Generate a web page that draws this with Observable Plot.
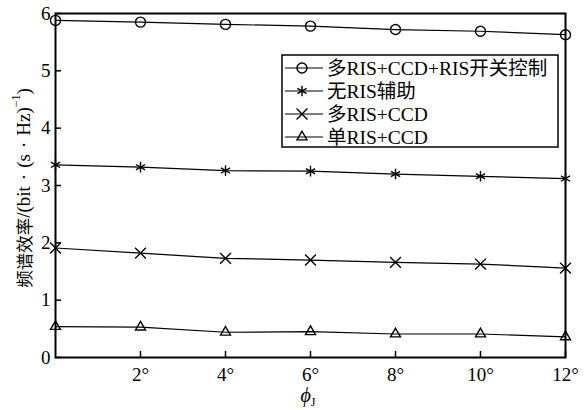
<!DOCTYPE html>
<html><head><meta charset="utf-8">
<script src="https://cdn.jsdelivr.net/npm/d3@7"></script>
<script src="https://cdn.jsdelivr.net/npm/@observablehq/plot@0.6"></script>
<style>body{margin:0;background:#fff} #chart{position:relative;width:587px;height:410px}</style>
</head><body><div id="chart"></div>
<script>
const angles = [0, 2, 4, 6, 8, 10, 12];
const multiRisSwitch = [5.88, 5.85, 5.81, 5.78, 5.72, 5.69, 5.63];
const noRis = [3.36, 3.32, 3.26, 3.25, 3.20, 3.16, 3.12];
const multiRis = [1.91, 1.82, 1.73, 1.70, 1.66, 1.63, 1.56];
const singleRis = [0.54, 0.53, 0.44, 0.45, 0.41, 0.41, 0.36];
const seriesNames = ["多RIS+CCD+RIS开关控制", "无RIS辅助", "多RIS+CCD", "单RIS+CCD"];
const seriesSymbols = ["circle", "asterisk", "times", "triangle"];
const xTicks = [2, 4, 6, 8, 10, 12];
const yTicks = [0, 1, 2, 3, 4, 5, 6];
const yLabelParts = ["频谱效率", "/(bit", "·", "(s", "·", "Hz)", "−1", ")"];
const xLabelMain = "ϕ";
const xLabelSub = "J";

const seriesValues = [multiRisSwitch, noRis, multiRis, singleRis];
const data = [];
seriesNames.forEach((name, i) => angles.forEach((a, j) => data.push({series: name, angle: a, value: seriesValues[i][j]})));

const W = 587, H = 410, mL = 55, mR = 22, mT = 13, mB = 53;
const plotW = W - mL - mR, plotH = H - mT - mB, TICK = 6;
const SERIF = "'Liberation Serif', 'Times New Roman', serif";
const CJK = "'Noto Sans CJK SC', sans-serif";
const MIXED = "'Liberation Serif', 'Times New Roman', 'Noto Sans CJK SC', serif";
const markerR = s => (s === "triangle" ? 3.7 : 5);

const chart = Plot.plot({
  width: W, height: H,
  marginLeft: mL, marginRight: mR, marginTop: mT, marginBottom: mB,
  style: {fontFamily: SERIF, fontSize: "19px", color: "#000", background: "#fff", overflow: "visible"},
  x: {domain: [0, 12]},
  y: {domain: [0, 6]},
  symbol: {domain: seriesNames, range: seriesSymbols},
  marks: [
    Plot.axisX(xTicks, {tickSize: 0, tickPadding: 10, tickFormat: d => d + "°", label: null}),
    Plot.axisY(yTicks, {tickSize: 0, tickPadding: 5, tickFormat: d => String(d), label: null}),
    Plot.tickX(xTicks, {x: d => d, stroke: "black", strokeWidth: 1.5, insetTop: plotH - TICK}),
    Plot.tickY(yTicks, {y: d => d, stroke: "black", strokeWidth: 1.5, insetRight: plotW - TICK}),
    Plot.line(data, {x: "angle", y: "value", z: "series", stroke: "black", strokeWidth: 1.2}),
    ...seriesNames.map((name, i) => Plot.dot(data.filter(d => d.series === name), {
      x: "angle", y: "value", symbol: "series", r: markerR(seriesSymbols[i]),
      stroke: "black", fill: "none", strokeWidth: 1.4
    })),
    Plot.frame({stroke: "black", strokeWidth: 2})
  ]
});
document.getElementById("chart").appendChild(chart);

const svg = d3.select(chart);
const xs = chart.scale("x");
const ys = chart.scale("y");

// y-axis label
const yl = svg.append("text")
  .attr("transform", `translate(23,${(ys.apply(0) + ys.apply(6)) / 2 + 3}) rotate(-90)`)
  .attr("text-anchor", "middle").attr("dominant-baseline", "central").attr("fill", "black");
yLabelParts.forEach((p, i) => {
  const t = yl.append("tspan");
  if (i === 0) { t.attr("font-family", CJK).attr("font-size", 17.5); }
  else { t.attr("font-family", SERIF).attr("font-size", 19); }
  if (p === "·") t.attr("dx", 6);
  if (i > 0 && yLabelParts[i - 1] === "·") t.attr("dx", 6);
  if (p === "−1") t.attr("font-size", 12).attr("dy", -7);
  if (i > 0 && yLabelParts[i - 1] === "−1") t.attr("dy", 7);
  t.text(p);
});

// x-axis label ϕ_J
const xl = svg.append("text")
  .attr("x", xs.apply(6) - 2).attr("y", H - 8)
  .attr("text-anchor", "middle").attr("font-size", 20).attr("fill", "black");
xl.append("tspan").attr("font-style", "italic").text(xLabelMain);
xl.append("tspan").attr("font-size", 12).attr("dy", 4).text(xLabelSub);

// legend
const lgX = W - mR - 283, lgY = mT + 42, lgW = 276, rowH = 23;
const lg = svg.append("g").attr("transform", `translate(${lgX},${lgY})`).attr("text-anchor", "start");
lg.append("rect").attr("width", lgW).attr("height", rowH * 4).attr("fill", "white").attr("stroke", "black").attr("stroke-width", 1.5);
const symMap = {circle: d3.symbolCircle, asterisk: d3.symbolAsterisk, times: d3.symbolTimes, triangle: d3.symbolTriangle};
seriesNames.forEach((name, i) => {
  const cy = 13 + i * rowH;
  const g = lg.append("g").attr("transform", `translate(0,${cy})`);
  g.append("line").attr("x1", 3).attr("x2", 41).attr("stroke", "black").attr("stroke-width", 1.2);
  const r = markerR(seriesSymbols[i]);
  g.append("path").attr("transform", "translate(20,0)")
    .attr("d", d3.symbol(symMap[seriesSymbols[i]], Math.PI * r * r)())
    .attr("fill", "none").attr("stroke", "black").attr("stroke-width", 1.4);
  g.append("text").attr("x", 45).attr("dy", "0.35em").attr("fill", "black")
    .attr("font-family", MIXED).attr("font-size", 19.5)
    .attr("text-anchor", "start").text(name);
});
</script>
</body></html>
